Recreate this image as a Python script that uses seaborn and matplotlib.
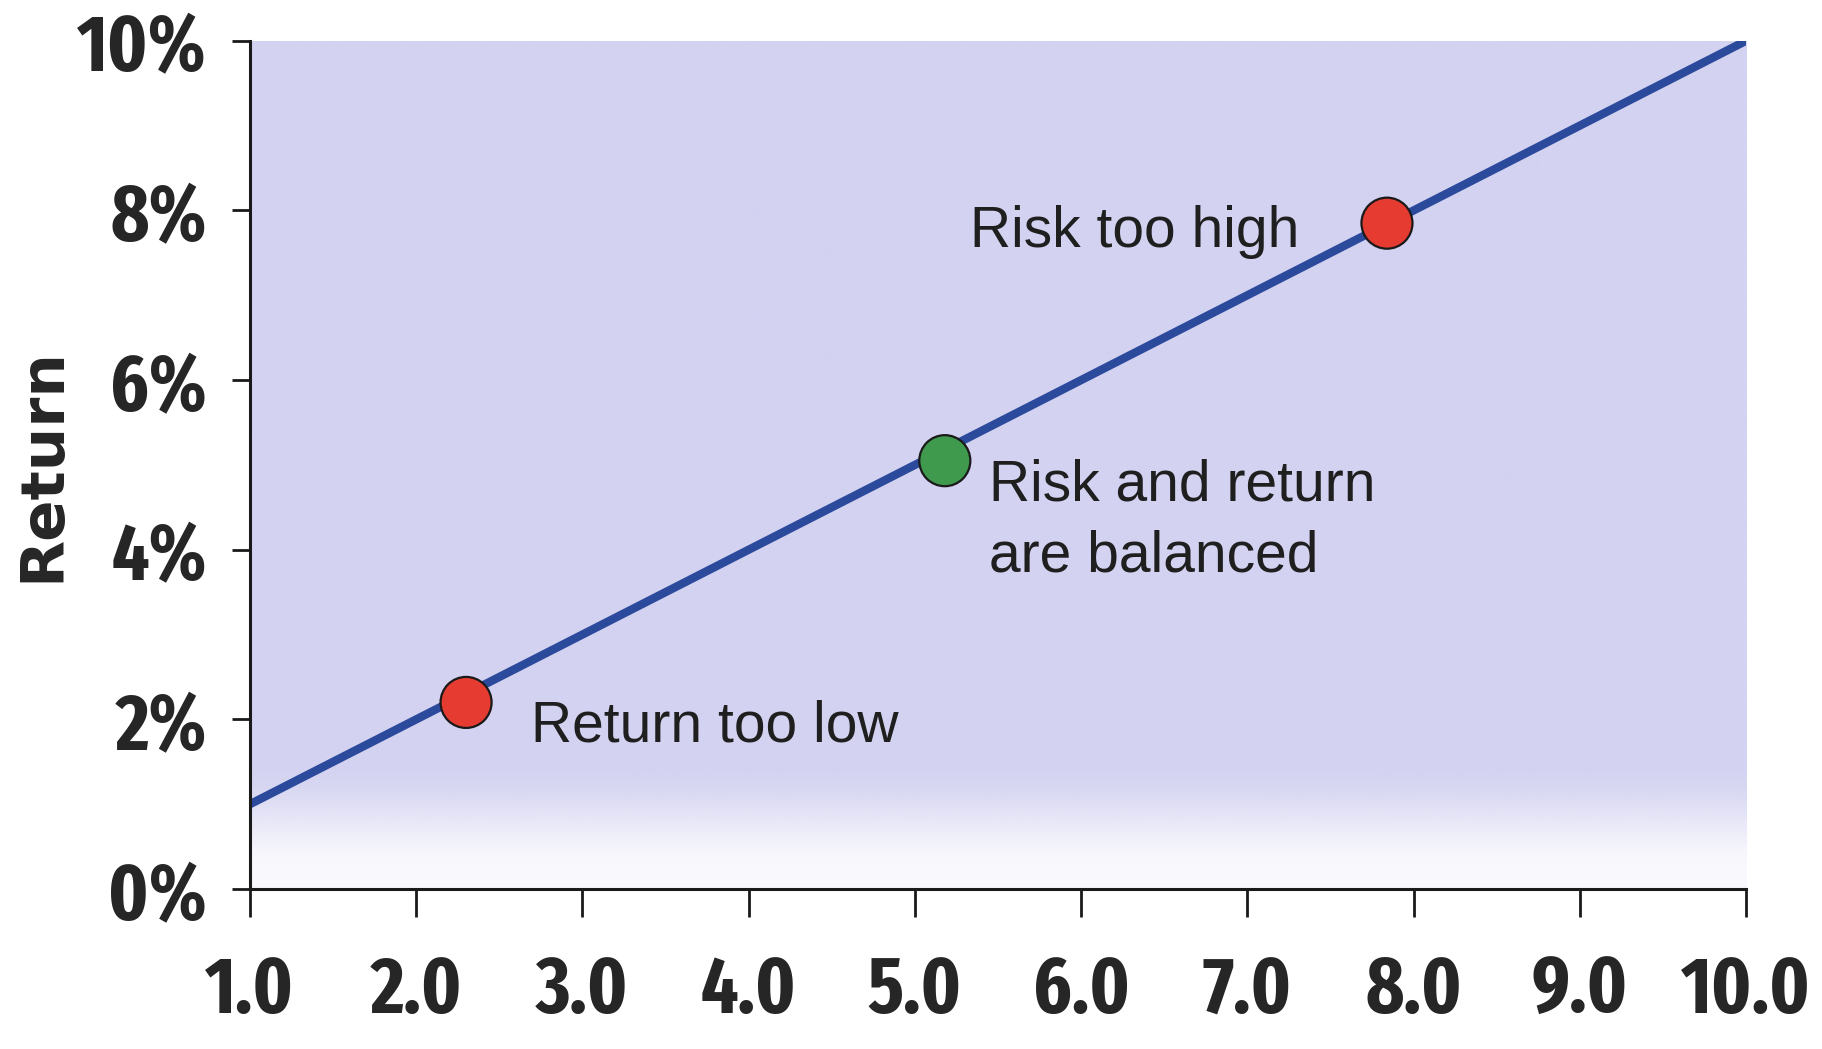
import os
import numpy as np
import pandas as pd
import matplotlib
matplotlib.use("Agg")
import matplotlib.pyplot as plt
from matplotlib import font_manager
from matplotlib.font_manager import FontProperties
import seaborn as sns

# Risk/return trade-off line and the three example portfolios on it
line_risk = [1.0, 10.0]
line_return = [1.0, 10.0]

point_risk = [2.3, 5.18, 7.84]
point_return = [2.2, 5.05, 7.85]
point_status = ["Return too low", "Risk and return\nare balanced", "Risk too high"]

x_ticks = [1, 2, 3, 4, 5, 6, 7, 8, 9, 10]
x_tick_labels = ["1.0", "2.0", "3.0", "4.0", "5.0", "6.0", "7.0", "8.0", "9.0", "10.0"]
y_ticks = [0, 2, 4, 6, 8, 10]
y_tick_labels = ["0%", "2%", "4%", "6%", "8%", "10%"]
y_title = "Return"

status_colors = {
    "Return too low": "#E53B30",
    "Risk and return\nare balanced": "#3F9A4E",
    "Risk too high": "#E53B30",
}

sns.set_style("white")
plt.rcParams["font.family"] = ["Liberation Sans", "DejaVu Sans"]


def condensed_bold_font():
    """Pick the narrowest bold sans face that is installed."""
    ranked = []
    for f in font_manager.fontManager.ttflist:
        base = os.path.basename(f.fname).lower()
        key = (f.name + " " + base).lower().replace(" ", "").replace("-", "")
        if "italic" in key or "oblique" in key:
            continue
        if "bold" not in base or any(t in base for t in ("extrabold", "semibold", "demibold")):
            continue
        if "extracondensed" in key:
            rank = 0
        elif "narrow" in key:
            rank = 1
        elif "semicondensed" in key:
            rank = 3
        elif "condensed" in key:
            rank = 2
        else:
            continue
        if "dejavu" in key:
            rank += 10
        ranked.append((rank, f.fname))
    ranked.sort()
    if ranked:
        return ranked[0][1], ranked[0][0] >= 10
    return None, True


tick_file, wide_face = condensed_bold_font()
if tick_file is not None:
    tick_fp = FontProperties(fname=tick_file, size=46 if wide_face else 57)
else:
    tick_fp = FontProperties(family="DejaVu Sans", weight="bold", size=46)

fig = plt.figure(figsize=(18.22, 10.49), dpi=100)
ax = fig.add_axes([0.1372, 0.1525, 0.8211, 0.8086])

# lavender panel that fades out toward the bottom edge
ys = np.linspace(0, 10, 400)
fade = np.clip((ys - 0.15) / (1.5 - 0.15), 0, 1)
fade = 0.12 + 0.88 * fade * fade * (3 - 2 * fade)
panel = np.zeros((len(ys), 2, 4))
panel[..., 0] = 0xD3 / 255
panel[..., 1] = 0xD2 / 255
panel[..., 2] = 0xF1 / 255
panel[..., 3] = fade[:, None]
ax.imshow(panel, extent=[1, 10, 0, 10], origin="lower", aspect="auto",
          interpolation="bilinear", zorder=0)

line_df = pd.DataFrame({"risk": line_risk, "ret": line_return})
sns.lineplot(data=line_df, x="risk", y="ret", ax=ax, color="#2C4A9C",
             linewidth=6, zorder=2, solid_capstyle="butt")

pts = pd.DataFrame({"risk": point_risk, "ret": point_return, "status": point_status})
sns.scatterplot(data=pts, x="risk", y="ret", hue="status", palette=status_colors,
                s=1350, edgecolor="#1a1a1a", linewidth=1.6, legend=False,
                ax=ax, zorder=3)

label_style = dict(fontsize=41, color="#1f1f1f", family=["Liberation Sans", "DejaVu Sans"],
                   textcoords="offset points", zorder=4)
ax.annotate(point_status[0], (point_risk[0], point_return[0]), xytext=(47, -28),
            ha="left", va="baseline", **label_style)
ax.annotate(point_status[1], (point_risk[1], point_return[1]), xytext=(32, -80),
            ha="left", va="baseline", linespacing=1.42, **label_style)
ax.annotate(point_status[2], (point_risk[2], point_return[2]), xytext=(-63, -17),
            ha="right", va="baseline", **label_style)

ax.set_xlim(1, 10)
ax.set_ylim(0, 10)
ax.set_xticks(x_ticks)
ax.set_xticklabels(x_tick_labels, fontproperties=tick_fp, color="#262626")
ax.set_yticks(y_ticks)
ax.set_yticklabels(y_tick_labels, fontproperties=tick_fp, color="#262626")
ax.tick_params(axis="x", direction="out", length=20, width=2, color="#1a1a1a", pad=25, bottom=True)
ax.tick_params(axis="y", direction="out", length=13, width=2, color="#1a1a1a", pad=18, left=True)

ax.set_xlabel("")
ax.set_ylabel(y_title, fontsize=44, fontweight="bold", color="#262626",
              family=["DejaVu Sans"])
ax.yaxis.set_label_coords(-0.119, 0.50)

for side in ("top", "right"):
    ax.spines[side].set_visible(False)
for side in ("left", "bottom"):
    ax.spines[side].set_linewidth(2.2)
    ax.spines[side].set_color("#1a1a1a")
ax.set_facecolor("white")
ax.grid(False)

fig.savefig("out.png", dpi=100, facecolor="white")
